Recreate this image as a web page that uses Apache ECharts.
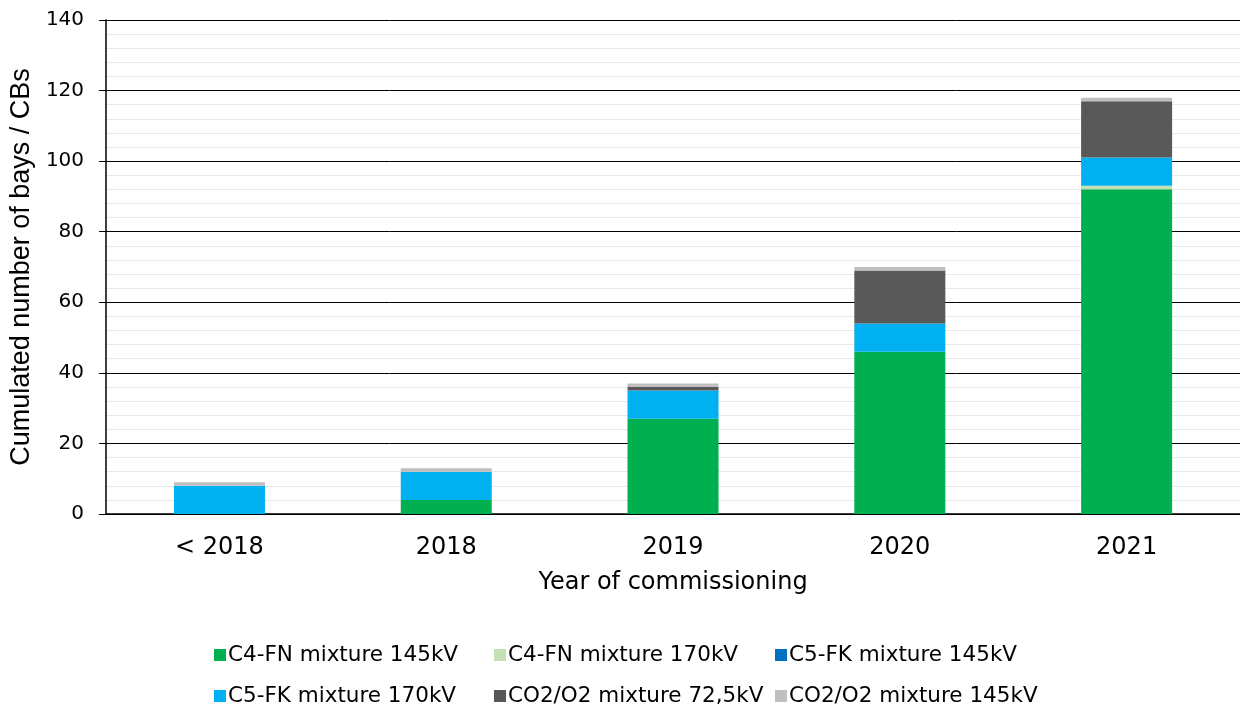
<!DOCTYPE html>
<html>
<head>
<meta charset="utf-8">
<script src="https://cdn.jsdelivr.net/npm/echarts@6/dist/echarts.min.js"></script>
<style>
	html, body { margin: 0; padding: 0; background: #fff; }
	#chart { width: 1240px; height: 711px; }
</style>
</head>
<body>
<div id="chart"></div>
<script>
var categories = ['< 2018', '2018', '2019', '2020', '2021'];
var seriesNames = [
	'C4-FN mixture 145kV',
	'C4-FN mixture 170kV',
	'C5-FK mixture 145kV',
	'C5-FK mixture 170kV',
	'CO2/O2 mixture 72,5kV',
	'CO2/O2 mixture 145kV'
];
var c4fn145 = [0, 4, 27, 46, 92];
var c4fn170 = [0, 0, 0, 0, 1];
var c5fk145 = [0, 0, 0, 0, 0];
var c5fk170 = [8, 8, 8, 8, 8];
var co2_725 = [0, 0, 1, 15, 16];
var co2_145 = [1, 1, 1, 1, 1];
var seriesData = [c4fn145, c4fn170, c5fk145, c5fk170, co2_725, co2_145];
var colors = ['#00b050', '#c5e0b4', '#0070c0', '#00b0f0', '#595959', '#bfbfbf'];

var wide = '"DejaVu Sans", sans-serif';
var arial = '"Liberation Sans", Arial, sans-serif';
var myChart = echarts.init(document.getElementById('chart'));

// one legend per item so the columns line up like the original
var legendPos = [[214, 644], [494, 644], [775, 644], [214, 685], [494, 685], [775, 685]];
var legends = seriesNames.map(function(name, i) {
	return {
		data: [name],
		left: legendPos[i][0],
		top: legendPos[i][1],
		itemWidth: 12,
		itemHeight: 12,
		itemGap: 0,
		padding: 0,
		icon: 'rect',
		textStyle: { fontFamily: wide, fontSize: 21.5, color: '#000', padding: [0, 0, 0, -3] }
	};
});

var series = seriesNames.map(function(name, i) {
	return {
		name: name,
		type: 'bar',
		stack: 'total',
		barWidth: 91,
		data: seriesData[i],
		itemStyle: { color: colors[i] }
	};
});

var option = {
	animation: false,
	color: colors,
	legend: legends,
	grid: {
		left: 105,
		right: 0,
		top: 20,
		bottom: 197
	},
	xAxis: {
		type: 'category',
		data: categories,
		name: 'Year of commissioning',
		nameLocation: 'middle',
		nameGap: 57,
		nameTextStyle: { fontFamily: wide, fontSize: 24, color: '#000' },
		axisLine: { lineStyle: { color: '#000', width: 1.5 } },
		axisTick: { show: false },
		axisLabel: { fontFamily: wide, fontSize: 24, color: '#000', margin: 22 }
	},
	yAxis: {
		type: 'value',
		min: 0,
		max: 140,
		interval: 20,
		name: 'Cumulated number of bays / CBs',
		nameLocation: 'middle',
		nameGap: 70,
		nameTextStyle: { fontFamily: arial, fontSize: 27, color: '#000' },
		axisLine: { show: true, lineStyle: { color: '#000', width: 1.5 } },
		axisTick: { show: true, inside: false, length: 7, lineStyle: { color: '#000' } },
		axisLabel: { fontFamily: wide, fontSize: 20, color: '#000', margin: 22 },
		splitLine: { lineStyle: { color: '#000', width: 1 } },
		minorTick: { show: false, splitNumber: 5 },
		minorSplitLine: { show: true, lineStyle: { color: '#e8e8e8', width: 1 } }
	},
	series: series
};
myChart.setOption(option);
</script>
</body>
</html>
